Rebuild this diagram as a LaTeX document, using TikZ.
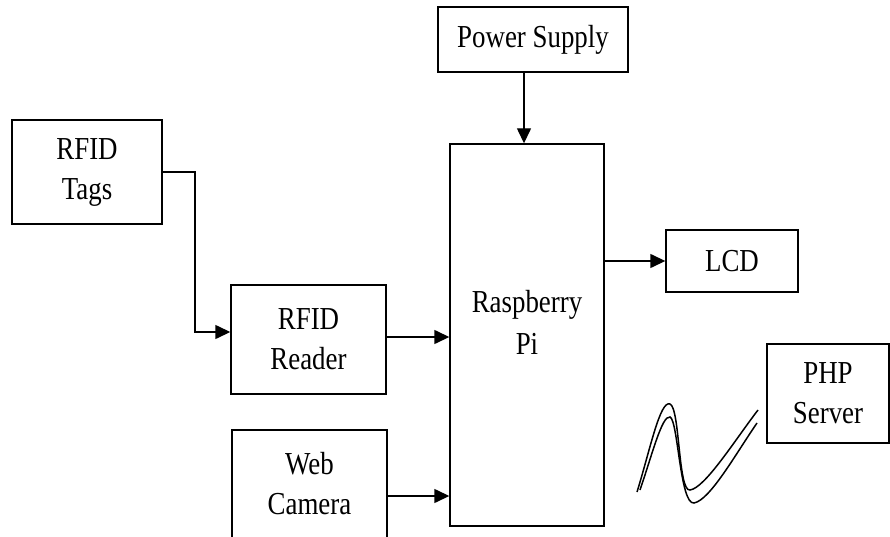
\documentclass[tikz,border=0pt]{standalone}
\usepackage{fontspec}
\setmainfont[FakeStretch=0.84]{Liberation Serif}
\usetikzlibrary{arrows.meta}

\begin{document}
\begin{tikzpicture}[x=1pt, y=-1pt,
    block/.style={draw, line width=1.4pt, inner sep=0pt, align=center,
        font=\fontsize{32}{40}\selectfont},
    link/.style={line width=1.4pt, -{Triangle[length=15pt, width=14pt]}},
    wave/.style={line width=1.5pt}
]
\useasboundingbox (0,0) rectangle (890,537);

\node[block, minimum width=150, minimum height=104] (tags) at (87,172) {RFID\\Tags};
\node[block, minimum width=155, minimum height=109] (reader) at (308.5,339.5) {RFID\\Reader};
\node[block, minimum width=155, minimum height=108] (camera) at (309.5,484) {Web\\Camera};
\node[block, minimum width=154, minimum height=382,
    label={[font=\fontsize{32}{42}\selectfont, align=center, yshift=13pt]center:Raspberry\\Pi}] (pi) at (527,335) {};
\node[block, minimum width=190, minimum height=65] (power) at (533,39.5) {Power Supply};
\node[block, minimum width=132, minimum height=62] (lcd) at (732,261) {LCD};
\node[block, minimum width=122, minimum height=99] (php) at (828,393.5) {PHP\\Server};

\coordinate (r1) at ([yshift=2.5pt]reader.east);
\coordinate (c1) at ([yshift=-12pt]camera.east);
\coordinate (p1) at ([xshift=-9pt]power.south);

\draw[link] (tags.east) -- (195,172) |- ([yshift=7.5pt]reader.west);
\draw[link] (r1) -- (r1 -| pi.west);
\draw[link] (c1) -- (c1 -| pi.west);
\draw[link] (p1) -- (p1 |- pi.north);
\draw[link] (pi.east |- lcd.west) -- (lcd.west);

% wireless link
\draw[wave] (637,492) .. controls (650,450) and (660,400) .. (670,404)
    .. controls (680,408) and (678,492) .. (690,490)
    .. controls (705,488) and (735,440) .. (758,410);
\draw[wave] (640,490) .. controls (652,455) and (662,415) .. (670,417)
    .. controls (678,420) and (680,505) .. (694,503)
    .. controls (710,500) and (735,455) .. (757,423);
\end{tikzpicture}
\end{document}
